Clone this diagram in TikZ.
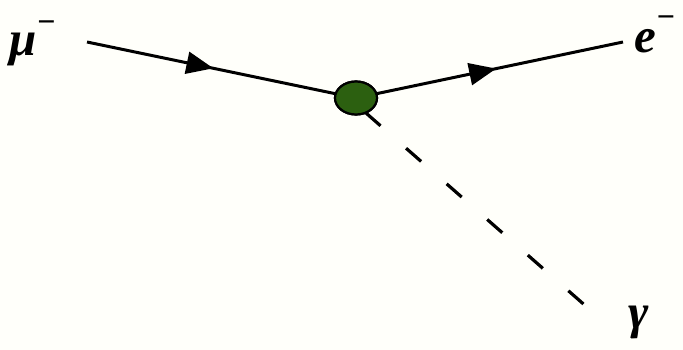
\documentclass[tikz,border=0pt]{standalone}
\usepackage{fontspec}
\setmainfont{Liberation Serif}
\usetikzlibrary{arrows.meta,decorations.markings,shapes.geometric}
\definecolor{bgcream}{RGB}{255,255,250}
\definecolor{blobgreen}{RGB}{44,96,16}
\tikzset{
  fermion/.style={line width=3pt,draw=black,
    postaction={decorate},
    decoration={markings,mark=at position #1 with {\arrow{Triangle[length=27pt,width=22pt]}}}},
  photon/.style={line width=3.2pt,draw=black,dash pattern=on 20pt off 34pt,dash phase=44pt},
  blob/.style={ellipse,draw=black,line width=2.2pt,fill=blobgreen,minimum width=42pt,minimum height=33pt,inner sep=0pt},
  lab/.style={font=\fontsize{49}{49}\selectfont\bfseries\itshape,inner sep=0pt,anchor=base west},
}
\newcommand{\supminus}[1]{\raisebox{#1}{\fontsize{32}{32}\selectfont\bfseries\upshape −}}
\begin{document}
\begin{tikzpicture}[x=1pt,y=-1pt]
  \fill[bgcream] (0,0) rectangle (683,350);
  \useasboundingbox (0,0) rectangle (683,350);
  \coordinate (a) at (87,42);
  \coordinate (b) at (623,42);
  \coordinate (g0) at (358,106);
  \coordinate (g1) at (588,308);
  \node[blob] (v) at (356,98) {};
  \draw[photon] (g0) -- (g1);
  \draw[fermion=0.47] (a) -- (v.center);
  \draw[fermion=0.525] (v.center) -- (b);
  \node[blob] (v2) at (v.center) {};
  \node[lab] (mu) at (9,56) {μ\hspace{1pt}\supminus{23pt}};
  \node[lab] (e) at (634,53) {e\hspace{1pt}\supminus{25pt}};
  \node[lab] (gam) at (628,328) {γ};
\end{tikzpicture}
\end{document}
